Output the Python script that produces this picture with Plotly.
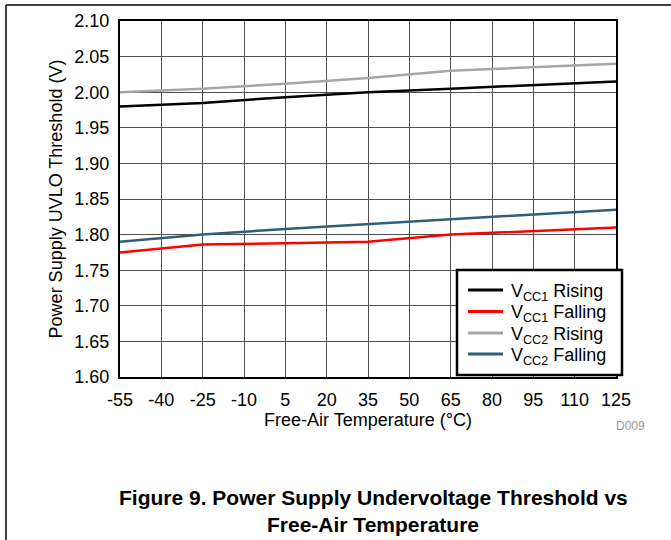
import plotly.graph_objects as go

temps = [-55, -25, 5, 35, 65, 95, 125]
vcc1_rising = [1.980, 1.985, 1.993, 2.000, 2.005, 2.010, 2.015]
vcc1_falling = [1.775, 1.786, 1.788, 1.790, 1.800, 1.805, 1.810]
vcc2_rising = [2.000, 2.005, 2.012, 2.020, 2.030, 2.035, 2.040]
vcc2_falling = [1.790, 1.800, 1.808, 1.815, 1.821, 1.828, 1.835]

x_ticks = list(range(-55, 126, 15))
y_ticks = [round(1.60 + 0.05 * i, 2) for i in range(11)]

series = [
    ("V<sub>CC1</sub> Rising", vcc1_rising, "#000000"),
    ("V<sub>CC1</sub> Falling", vcc1_falling, "#ff0000"),
    ("V<sub>CC2</sub> Rising", vcc2_rising, "#a6a6a6"),
    ("V<sub>CC2</sub> Falling", vcc2_falling, "#2f5f78"),
]

# plot-area pixel box
PL, PR, PT, PB = 120, 616, 21, 377
W, H = 671, 540


def px(x):
    return (x - PL) / (PR - PL)


def py(y):
    return (PB - y) / (PB - PT)


fig = go.Figure()
for name, vals, color in series:
    fig.add_trace(go.Scatter(x=temps, y=vals, mode="lines", name=name,
                             line=dict(color=color, width=2.5), showlegend=False))

font = "Liberation Sans, Arial, sans-serif"
fig.update_layout(
    width=W, height=H,
    margin=dict(l=PL, r=W - PR, t=PT, b=H - PB, pad=0),
    paper_bgcolor="white", plot_bgcolor="white",
    font=dict(family=font, size=18, color="black"),
    showlegend=False,
    xaxis=dict(range=[-55, 125], tickvals=x_ticks, ticktext=[str(t) for t in x_ticks],
               showgrid=True, gridcolor="#505050", gridwidth=1,
               showline=True, linecolor="black", linewidth=2, mirror=True,
               ticks="outside", ticklen=5, tickcolor="rgba(0,0,0,0)", zeroline=False,
               title=dict(text="Free-Air Temperature (°C)", standoff=2, font=dict(size=18))),
    yaxis=dict(range=[1.60, 2.10], tickvals=y_ticks, ticktext=[f"{v:.2f}" for v in y_ticks],
               showgrid=True, gridcolor="#505050", gridwidth=1,
               showline=True, linecolor="black", linewidth=2, mirror=True,
               ticks="outside", ticklen=5, tickcolor="rgba(0,0,0,0)", zeroline=False,
               title=dict(text="Power Supply UVLO Threshold (V)", standoff=7, font=dict(size=18))),
)

# Legend box (drawn in paper space)
LX0, LX1, LY0, LY1 = 457, 622, 270, 375
fig.add_shape(type="rect", xref="paper", yref="paper", layer="above",
              x0=px(LX0), x1=px(LX1), y0=py(LY1), y1=py(LY0),
              fillcolor="white", line=dict(color="black", width=2.5))
row_y = [290, 311.5, 333, 354]
for (name, _, color), ry in zip(series, row_y):
    fig.add_shape(type="line", xref="paper", yref="paper", layer="above",
                  x0=px(468), x1=px(503), y0=py(ry), y1=py(ry),
                  line=dict(color=color, width=3))
    fig.add_annotation(text=name, xref="paper", yref="paper",
                       x=px(509), y=py(ry + 2), xanchor="left", yanchor="middle",
                       showarrow=False, font=dict(size=18, color="black"))

# Frame lines of the figure box
fig.add_shape(type="line", xref="paper", yref="paper",
              x0=px(6), x1=px(675), y0=py(5), y1=py(5),
              line=dict(color="black", width=1.5))
fig.add_shape(type="line", xref="paper", yref="paper",
              x0=px(6), x1=px(6), y0=py(5), y1=py(545),
              line=dict(color="black", width=1.5))

fig.add_annotation(text="D009", xref="paper", yref="paper",
                   x=px(630), y=py(426), xanchor="center", yanchor="middle",
                   showarrow=False, font=dict(size=12, color="#999999"))
fig.add_annotation(text="<b>Figure 9. Power Supply Undervoltage Threshold vs</b>",
                   xref="paper", yref="paper", xanchor="center", yanchor="middle",
                   x=px(373), y=py(497),
                   showarrow=False, font=dict(size=21, color="black"))
fig.add_annotation(text="<b>Free-Air Temperature</b>",
                   xref="paper", yref="paper", xanchor="center", yanchor="middle",
                   x=px(373), y=py(524),
                   showarrow=False, font=dict(size=21, color="black"))

fig.write_html("out.html", config={"displayModeBar": False},
               post_script="document.body.style.margin='0px';")
